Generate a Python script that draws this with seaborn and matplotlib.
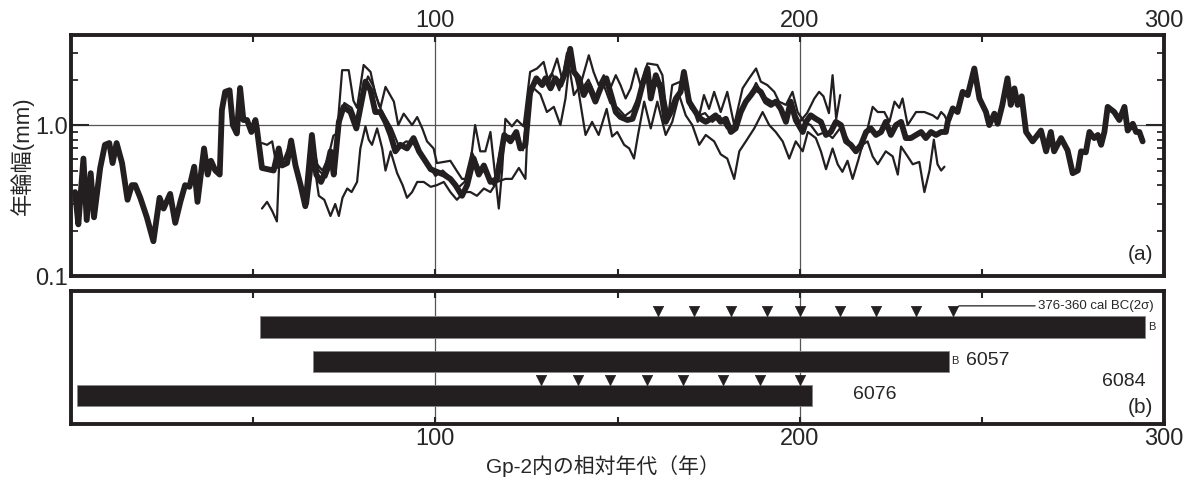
import numpy as np
import pandas as pd
import matplotlib
matplotlib.use("Agg")
import matplotlib.pyplot as plt
from matplotlib.ticker import FixedLocator, NullFormatter
import seaborn as sns

# ---- (a) ring width series (relative year, width in mm) ----
mean_years = [1.1, 2.0, 3.4, 4.3, 5.4, 6.3, 8.0, 9.3, 10.5, 11.4, 12.5, 14.0, 15.5, 16.7, 17.6, 19.0,
              20.8, 22.6, 24.3, 25.4, 27.2, 28.6, 30.0, 31.3, 32.5, 33.8, 34.7, 36.5, 37.5, 38.4, 39.6,
              40.8, 41.4, 42.3, 43.5, 44.4, 45.5, 46.4, 47.3, 48.3, 49.5, 50.6, 51.0, 52.4, 54.0, 55.6,
              57.0, 57.9, 59.3, 60.4, 61.6, 63.0, 64.3, 66.1, 67.3, 68.6, 70.1, 71.2, 72.1, 73.5, 74.8,
              76.7, 78.3, 79.9, 80.8, 82.2, 83.5, 84.9, 86.3, 87.7, 89.0, 90.4, 92.2, 94.0, 95.5, 96.8,
              98.7, 100.4, 102.3, 104.1, 105.5, 107.3, 108.7, 110.5, 111.9, 113.3, 115.1, 116.9, 118.9,
              120.6, 122.2, 123.3, 124.7, 126.0, 127.7, 129.3, 130.2, 131.6, 132.9, 134.3, 135.7, 137.0,
              138.0, 139.4, 140.7, 142.1, 143.9, 145.3, 146.9, 148.5, 149.5, 150.8, 152.7, 154.1, 155.4,
              156.8, 158.2, 159.1, 160.5, 161.8, 163.2, 164.6, 166.0, 167.3, 168.2, 169.6, 171.4, 172.8,
              174.2, 175.6, 176.9, 178.3, 179.7, 181.1, 182.4, 183.8, 185.2, 186.6, 187.9, 189.3, 190.7,
              192.1, 193.4, 194.8, 196.2, 197.5, 198.9, 200.8, 201.7, 203.0, 204.4, 205.8, 207.2, 208.5,
              209.9, 211.3, 212.7, 214.0, 215.4, 216.8, 218.2, 219.5, 220.9, 222.3, 223.6, 225.0, 226.4,
              227.8, 229.1, 230.5, 231.9, 233.3, 234.6, 236.0, 237.4, 238.8, 240.1, 240.6, 242.0, 243.3,
              244.7, 246.1, 247.9, 249.3, 251.1, 252.0, 253.4, 254.3, 255.6, 257.0, 257.9, 258.9, 259.8,
              260.9, 262.1, 263.9, 266.2, 267.6, 268.9, 269.8, 271.7, 273.5, 274.9, 276.3, 277.2, 278.5,
              279.5, 280.8, 281.8, 282.7, 283.6, 284.5, 286.3, 287.7, 289.1, 290.0, 291.4, 292.3, 293.2,
              294.1]
mean_width = [0.36, 0.22, 0.60, 0.235, 0.48, 0.245, 0.52, 0.74, 0.76, 0.56, 0.76, 0.56, 0.32, 0.40, 0.40,
              0.33, 0.245, 0.17, 0.33, 0.28, 0.35, 0.225, 0.31, 0.40, 0.39, 0.53, 0.31, 0.70, 0.47, 0.58,
              0.50, 0.47, 1.26, 1.66, 1.70, 1.00, 0.88, 1.76, 1.08, 1.08, 0.90, 1.08, 0.95, 0.52, 0.51,
              0.50, 0.70, 0.54, 0.56, 0.79, 0.54, 0.40, 0.29, 0.86, 0.47, 0.42, 0.51, 0.67, 0.47, 1.05,
              1.32, 1.22, 0.95, 1.50, 1.94, 1.70, 1.22, 1.22, 1.05, 0.86, 0.67, 0.74, 0.70, 0.82, 0.67,
              0.60, 0.51, 0.49, 0.47, 0.44, 0.40, 0.34, 0.40, 0.60, 0.47, 0.54, 0.42, 0.44, 0.86, 0.78,
              0.90, 0.70, 0.74, 1.66, 2.04, 1.84, 2.04, 1.75, 2.04, 1.84, 2.25, 3.20, 2.25, 2.04, 1.58,
              1.84, 1.43, 1.75, 2.04, 1.50, 1.22, 1.13, 1.08, 1.10, 1.36, 1.84, 2.37, 1.50, 2.14, 1.75,
              1.05, 1.22, 1.50, 1.66, 2.25, 1.43, 1.22, 1.10, 1.05, 1.10, 1.16, 1.05, 1.10, 0.90, 0.95,
              1.22, 1.43, 1.58, 1.75, 1.66, 1.43, 1.36, 1.43, 1.28, 1.05, 1.43, 1.08, 0.90, 1.05, 1.16,
              1.10, 1.05, 0.86, 0.90, 1.05, 1.00, 0.78, 0.74, 0.67, 0.74, 0.90, 0.95, 0.86, 0.90, 1.05,
              0.86, 1.00, 1.05, 0.82, 0.82, 0.86, 0.90, 0.82, 0.90, 0.86, 0.90, 0.90, 1.05, 1.29, 1.22,
              1.66, 1.58, 2.37, 1.50, 1.22, 1.00, 1.19, 1.02, 1.36, 2.04, 1.36, 1.75, 1.36, 1.55, 0.90,
              0.78, 0.92, 0.67, 0.90, 0.67, 0.82, 0.68, 0.48, 0.50, 0.67, 0.66, 0.90, 0.82, 0.86, 0.74,
              0.90, 1.32, 1.22, 1.08, 1.32, 0.92, 1.02, 0.90, 0.90, 0.78]

upper_years = [52.4, 53.8, 55.2, 56.5, 58.0, 60.0, 61.6, 63.0, 64.5, 66.0, 67.5, 69.0, 70.5, 72.0, 73.0,
               74.4, 76.2, 77.5, 78.5, 80.3, 82.2, 83.5, 84.9, 86.3, 88.6, 89.8, 91.3, 93.6, 95.0, 96.4,
               97.7, 99.5, 100.4, 102.3, 104.1, 105.8, 107.3, 109.1, 110.9, 112.3, 113.7, 115.1, 116.5,
               117.4, 118.3, 119.2, 121.0, 122.4, 124.2, 126.0, 127.9, 129.7, 131.1, 133.4, 134.8, 136.1,
               138.0, 139.8, 142.1, 143.4, 144.8, 146.2, 147.6, 149.5, 150.8, 152.2, 153.6, 155.0, 156.3,
               158.2, 160.9, 162.3, 163.7, 165.0, 167.3, 168.7, 170.1, 172.0, 173.7, 175.1, 176.5, 178.3,
               180.1, 182.0, 184.3, 186.1, 188.0, 189.3, 191.1, 193.0, 194.3, 196.2, 198.0, 199.4, 201.2,
               203.0, 205.0, 207.0, 209.0, 211.0, 213.0, 215.0, 217.0, 218.2, 220.0, 221.4, 223.2, 224.6,
               226.0, 227.3, 228.2, 229.6, 231.9, 234.2, 236.5, 237.8, 238.8, 239.7, 240.6]
upper_width = [0.76, 0.74, 0.78, 0.52, 0.56, 0.74, 0.56, 0.42, 0.33, 0.80, 0.55, 0.50, 0.60, 0.85, 0.88,
               2.31, 2.31, 1.45, 1.30, 2.50, 2.25, 1.60, 1.30, 1.79, 1.43, 1.00, 1.19, 1.00, 1.13, 0.95,
               0.78, 0.70, 0.56, 0.57, 0.58, 0.50, 0.44, 0.44, 1.00, 0.67, 0.67, 0.90, 0.44, 0.28, 0.50,
               1.10, 0.98, 1.08, 0.98, 2.25, 2.37, 2.62, 1.90, 2.76, 2.00, 3.00, 1.58, 1.84, 2.90, 2.25,
               1.84, 2.14, 1.66, 2.14, 1.84, 1.50, 1.75, 2.37, 1.84, 2.56, 2.50, 2.14, 1.05, 1.84, 1.94,
               1.84, 1.43, 1.05, 1.58, 1.28, 1.66, 1.22, 1.66, 1.00, 1.75, 2.04, 2.37, 1.94, 1.84, 1.66,
               1.43, 1.36, 1.66, 1.22, 1.05, 1.00, 0.86, 0.90, 0.82, 0.95, 0.82, 0.67, 0.70, 0.86, 1.32,
               1.22, 1.22, 1.05, 1.43, 1.30, 1.50, 1.00, 1.22, 1.22, 1.16, 1.10, 1.22, 1.16, 1.05]

lower_years = [52.4, 53.8, 55.2, 56.5, 57.2, 59.0, 60.4, 62.0, 63.5, 65.0, 66.5, 68.0, 69.5, 71.2, 72.5,
               73.5, 74.5, 75.8, 77.0, 78.5, 79.4, 80.8, 81.7, 82.6, 84.0, 85.4, 86.3, 87.7, 89.5, 91.0,
               92.2, 93.6, 95.0, 96.8, 98.7, 100.4, 102.3, 104.1, 105.9, 107.8, 109.6, 111.4, 113.3,
               115.1, 116.9, 119.2, 121.0, 122.9, 124.7, 125.6, 127.0, 128.8, 130.6, 132.5, 134.3, 135.7,
               137.0, 139.0, 141.2, 143.0, 144.8, 147.0, 148.5, 149.9, 151.8, 153.2, 154.5, 155.6, 157.3,
               159.1, 160.9, 163.2, 165.0, 166.9, 168.7, 170.5, 172.4, 174.2, 176.5, 178.3, 180.1, 182.0,
               183.4, 185.2, 187.5, 189.8, 191.6, 193.4, 195.3, 197.1, 198.9, 200.8, 202.2, 204.4, 205.8,
               207.2, 209.0, 210.4, 211.7, 213.1, 214.5, 216.0, 217.2, 218.6, 220.0, 221.4, 223.6, 225.5,
               226.9, 227.8, 229.6, 231.0, 232.8, 234.2, 235.6, 236.8, 237.8, 238.8, 239.7]
lower_width = [0.28, 0.31, 0.27, 0.23, 0.62, 0.55, 0.75, 0.50, 0.38, 0.30, 0.60, 0.34, 0.32, 0.25, 0.30,
               0.25, 0.33, 0.38, 0.36, 0.42, 0.70, 0.98, 0.80, 0.74, 0.95, 0.70, 0.50, 0.67, 0.48, 0.40,
               0.33, 0.36, 0.42, 0.42, 0.39, 0.40, 0.42, 0.36, 0.32, 0.36, 0.36, 0.34, 0.38, 0.36, 0.42,
               0.44, 0.44, 0.52, 0.44, 1.43, 1.75, 1.60, 1.22, 1.32, 1.00, 1.50, 2.90, 1.84, 0.86, 1.05,
               0.86, 1.28, 0.84, 0.90, 0.74, 0.70, 0.60, 0.86, 1.43, 0.95, 1.43, 0.86, 1.05, 1.58, 1.16,
               1.00, 0.74, 0.86, 0.78, 0.64, 0.60, 0.44, 0.67, 0.78, 0.95, 1.22, 1.00, 0.90, 0.78, 0.60,
               0.78, 0.67, 0.90, 0.82, 0.67, 0.51, 0.70, 0.55, 0.49, 0.58, 0.44, 0.58, 0.74, 0.78, 0.62,
               0.55, 0.67, 0.62, 0.47, 0.72, 0.62, 0.55, 0.57, 0.36, 0.50, 0.80, 0.55, 0.50, 0.53]

mid_years = [66, 68, 70, 72, 73.5, 75, 77, 78.5, 80, 81.5, 83, 84.5, 86, 88, 90, 92, 94, 96, 98, 100,
             102, 104, 106, 108, 110, 112, 114, 116, 118, 120, 122, 124, 126, 128, 130, 132, 134, 136,
             138, 140, 142, 144, 146, 148, 150, 152, 154, 156, 158, 160, 162, 164, 166, 168, 170, 172,
             174, 176, 178, 180, 182, 184, 186, 188, 190, 192, 194, 196, 198, 200, 202, 204, 205.3,
             206.5, 208, 209, 210, 211.1]
mid_width = [0.80, 0.50, 0.45, 0.60, 0.95, 1.40, 1.30, 1.05, 1.60, 2.10, 1.80, 1.35, 1.15, 0.95, 0.72,
             0.78, 0.76, 0.62, 0.55, 0.46, 0.50, 0.45, 0.38, 0.42, 0.66, 0.52, 0.48, 0.40, 0.72, 0.85,
             0.82, 0.68, 1.80, 1.95, 1.90, 2.20, 1.70, 2.60, 2.40, 1.70, 2.00, 1.55, 1.90, 1.40, 1.30,
             1.15, 1.25, 1.60, 2.10, 1.80, 1.90, 1.15, 1.40, 2.00, 1.30, 1.15, 1.20, 1.05, 1.15, 0.95,
             1.00, 1.30, 1.50, 1.90, 1.55, 1.45, 1.35, 1.10, 1.30, 1.05, 1.20, 1.50, 1.66, 1.55, 1.20,
             2.14, 1.10, 1.58]

# ---- (b) sample spans and dated rings ----
samples = ['6084', '6057', '6076']
span_start = [51.9, 66.5, 1.6]
span_end = [294.8, 240.9, 203.3]
marks_6084 = [161, 171, 181, 191, 200, 211, 221, 232, 242]
marks_6076 = [129, 139, 148, 158, 168, 179, 189, 200]

INK = '#231f20'
GRID = '#555555'

sns.set_style("white")
plt.rcParams['font.family'] = ['Liberation Sans', 'Noto Sans CJK JP', 'DejaVu Sans']

fig = plt.figure(figsize=(11.94, 4.86), dpi=100)
ax_a = fig.add_axes([0.0595, 0.432, 0.9155, 0.496])
ax_b = fig.add_axes([0.0595, 0.128, 0.9155, 0.273])

# panel (a)
for yrs, w in [(upper_years, upper_width), (lower_years, lower_width), (mid_years, mid_width)]:
    sns.lineplot(x=yrs, y=w, ax=ax_a, color=INK, lw=1.6, estimator=None, sort=False)
sns.lineplot(x=mean_years, y=mean_width, ax=ax_a, color=INK, lw=4.2, estimator=None, sort=False)

ax_a.set_yscale('log')
ax_a.set_xlim(0, 300)
ax_a.set_ylim(0.1, 3.95)
ax_a.axhline(1.0, color=GRID, lw=0.9, zorder=0)
for gx in [100, 200]:
    ax_a.axvline(gx, color=GRID, lw=0.9, zorder=0)

ax_a.xaxis.tick_top()
ax_a.set_xticks([100, 200, 300])
ax_a.xaxis.set_minor_locator(FixedLocator([50, 150, 250]))
ax_a.tick_params(axis='x', which='both', direction='in', top=True, bottom=True,
                 labeltop=True, labelbottom=False, length=5, width=1.5, labelsize=17, pad=2)
ax_a.set_yticks([0.1, 1.0])
ax_a.set_yticklabels(['0.1', '1.0'])
ax_a.yaxis.set_minor_locator(FixedLocator([0.2, 0.3, 0.4, 0.5, 0.6, 0.7, 0.8, 0.9, 2, 3]))
ax_a.yaxis.set_minor_formatter(NullFormatter())
ax_a.tick_params(axis='y', which='major', direction='in', left=True, right=True,
                 length=13, width=1.5, labelsize=17, pad=2)
ax_a.tick_params(axis='y', which='minor', direction='in', left=True, right=True,
                 length=5, width=1.3)
ax_a.set_ylabel('年輪幅(mm)', fontsize=16, labelpad=1)
ax_a.set_xlabel('')
ax_a.text(0.99, 0.05, '(a)', transform=ax_a.transAxes, ha='right', va='bottom', fontsize=15)

# panel (b)
pos = np.arange(len(samples))
ax_b.barh(pos, np.array(span_end) - np.array(span_start), left=span_start,
          height=0.62, color=INK, edgecolor='#888888', lw=0.6)
sns.scatterplot(x=marks_6084, y=np.full(len(marks_6084), pos[0] - 0.47), ax=ax_b,
                marker='v', s=55, color=INK, edgecolor=INK, linewidth=0.5)
sns.scatterplot(x=marks_6076, y=np.full(len(marks_6076), pos[2] - 0.45), ax=ax_b,
                marker='v', s=55, color=INK, edgecolor=INK, linewidth=0.5)

ax_b.annotate('376-360 cal BC(2σ)', xy=(marks_6084[-1] + 0.8, pos[0] - 0.55),
              xytext=(265.5, pos[0] - 0.62), fontsize=9.5, ha='left', va='center',
              arrowprops=dict(arrowstyle='-', color=INK, lw=0.9, shrinkA=0, shrinkB=0,
                              connectionstyle='angle,angleA=0,angleB=35,rad=0'))
ax_b.text(span_end[0] + 0.7, pos[0], 'B', fontsize=8, ha='left', va='center')
ax_b.text(span_end[1] + 0.7, pos[1], 'B', fontsize=8, ha='left', va='center')
ax_b.text(245.5, pos[1] - 0.03, samples[1], fontsize=14, ha='left', va='center')
ax_b.text(295, pos[1] + 0.6, samples[0], fontsize=14, ha='right', va='center')
ax_b.text(214.5, pos[2] - 0.03, samples[2], fontsize=14, ha='left', va='center')
ax_b.text(0.99, 0.05, '(b)', transform=ax_b.transAxes, ha='right', va='bottom', fontsize=15)

for gx in [100, 200]:
    ax_b.axvline(gx, color=GRID, lw=0.9, zorder=0)
ax_b.set_xlim(0, 300)
ax_b.set_ylim(2.82, -1.05)
ax_b.set_yticks([])
ax_b.set_xticks([100, 200, 300])
ax_b.xaxis.set_minor_locator(FixedLocator([50, 150, 250]))
ax_b.tick_params(axis='x', which='both', direction='in', top=True, bottom=True,
                 length=5, width=1.5, labelsize=17, pad=3)
ax_b.set_xlabel('Gp-2内の相対年代（年）', fontsize=15, va='center')
ax_b.xaxis.set_label_coords(0.487, -0.32)

for ax in (ax_a, ax_b):
    for sp in ax.spines.values():
        sp.set_visible(True)
        sp.set_linewidth(2.8)
        sp.set_color(INK)

fig.savefig('out.png', dpi=100)
